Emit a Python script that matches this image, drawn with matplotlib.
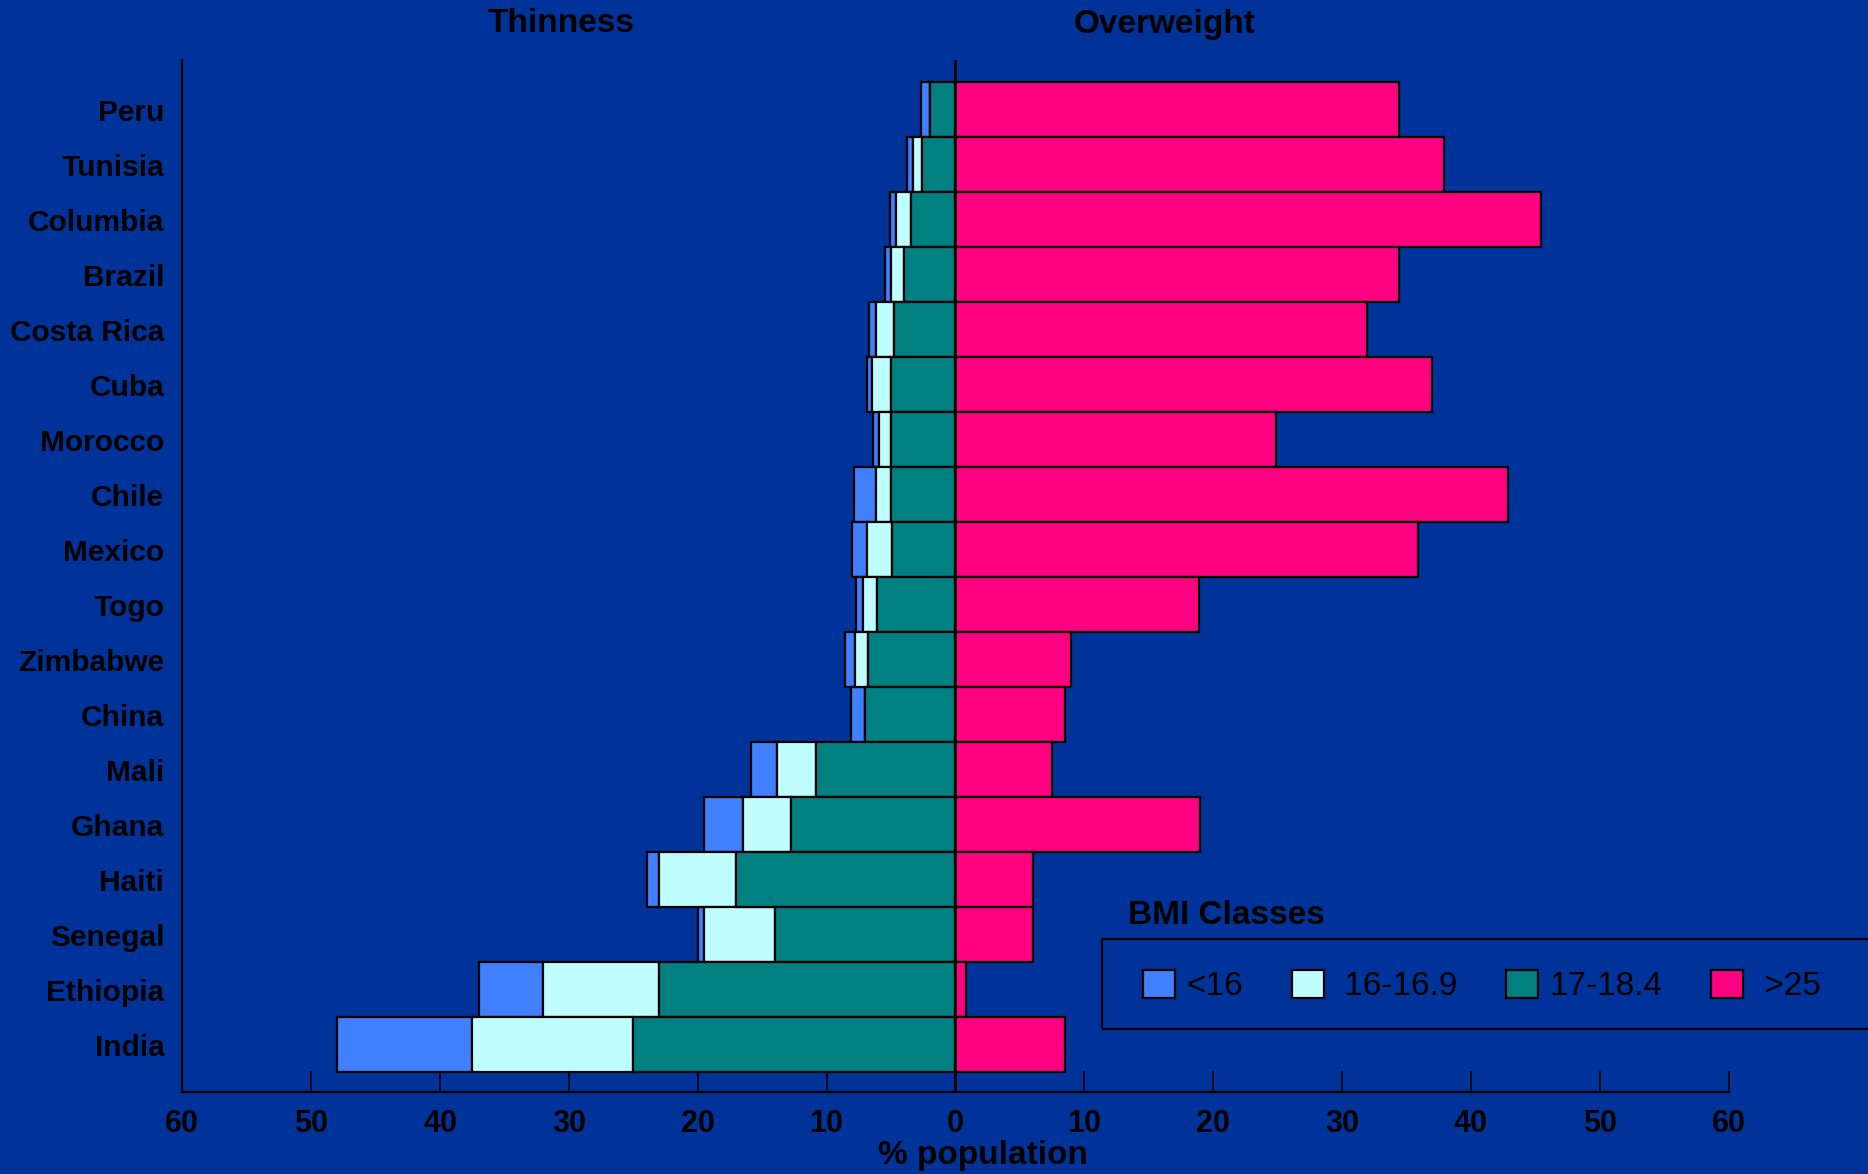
import matplotlib
matplotlib.use('Agg')
import matplotlib.pyplot as plt
from matplotlib.patches import Rectangle
import numpy as np

plt.rcParams['font.family'] = ['Liberation Sans', 'DejaVu Sans']

# Data (% of population)
countries = ['Peru', 'Tunisia', 'Columbia', 'Brazil', 'Costa Rica', 'Cuba',
             'Morocco', 'Chile', 'Mexico', 'Togo', 'Zimbabwe', 'China',
             'Mali', 'Ghana', 'Haiti', 'Senegal', 'Ethiopia', 'India']
bmi_17_18 = [2.0, 2.6, 3.45, 4.0, 4.8, 5.0, 5.0, 5.0, 4.9, 6.1, 6.8, 7.0,
             10.8, 12.8, 17.0, 14.0, 23.0, 25.0]
bmi_16_17 = [0.0, 0.7, 1.2, 1.0, 1.35, 1.45, 0.95, 1.2, 2.0, 1.1, 1.0, 0.0,
             3.05, 3.7, 6.0, 5.5, 9.0, 12.5]
bmi_lt16 = [0.7, 0.5, 0.45, 0.45, 0.55, 0.45, 0.45, 1.7, 1.1, 0.5, 0.8, 1.1,
            2.0, 3.0, 0.95, 0.5, 5.0, 10.5]
bmi_gt25 = [34.4, 37.9, 45.4, 34.4, 31.9, 37.0, 24.9, 42.9, 35.9, 18.9, 9.0,
            8.5, 7.5, 19.0, 6.0, 6.0, 0.85, 8.5]
class_labels = ['<16', ' 16-16.9', '17-18.4', ' >25']
xtick_vals = [-60, -50, -40, -30, -20, -10, 0, 10, 20, 30, 40, 50, 60]
xtick_labels = ['60', '50', '40', '30', '20', '10', '0', '10', '20', '30', '40', '50', '60']

# Colours
bg = '#003399'
c_lt16 = '#4080FF'
c_16 = '#C0FFFF'
c_17 = '#008080'
c_25 = '#FF0080'

fig = plt.figure(figsize=(18.68, 11.74), dpi=100, facecolor=bg)
ax = fig.add_axes([0.0976, 0.0695, 0.8278, 0.8797])
ax.set_facecolor(bg)

y = np.arange(len(countries))[::-1]
teal = np.array(bmi_17_18)
cyan = np.array(bmi_16_17)
blue = np.array(bmi_lt16)
pink = np.array(bmi_gt25)

kw = dict(height=1.0, edgecolor='black', linewidth=1.6)
b1 = ax.barh(y, -blue, left=-(teal + cyan), color=c_lt16, **kw)
b2 = ax.barh(y, -cyan, left=-teal, color=c_16, **kw)
b3 = ax.barh(y, -teal, color=c_17, **kw)
b4 = ax.barh(y, pink, color=c_25, **kw)

ax.axvline(0, color='black', linewidth=2)

ax.set_xlim(-60, 60)
ax.set_ylim(-0.87, len(countries) - 1 + 0.91)
ax.set_yticks(y)
ax.set_yticklabels(countries, fontsize=21.5, fontweight='bold')
ax.tick_params(axis='y', length=0, pad=13)
ax.set_xticks(xtick_vals)
ax.set_xticklabels(xtick_labels, fontsize=22, fontweight='bold')
ax.tick_params(axis='x', direction='in', length=15, width=1.2, pad=12, colors='black')

for s in ['top', 'right']:
    ax.spines[s].set_visible(False)
for s in ['left', 'bottom']:
    ax.spines[s].set_linewidth(1.6)
    ax.spines[s].set_color('black')

ax.set_xlabel('% population', fontsize=24, fontweight='bold')
ax.xaxis.set_label_coords(0.518, -0.046)

fig.text(561 / 1868, 1 - 24 / 1174, 'Thinness', fontsize=24, fontweight='bold',
         ha='center', va='center')
fig.text(1165 / 1868, 1 - 24 / 1174, 'Overweight', fontsize=24, fontweight='bold',
         ha='center', va='center')

# Legend
frame = Rectangle((1102 / 1868, 1 - 1029 / 1174), 0.5, 90 / 1174,
                  transform=fig.transFigure, facecolor='none',
                  edgecolor='black', linewidth=1.6)
fig.patches.append(frame)
fig.text(1128 / 1868, 1 - 915 / 1174, 'BMI Classes', fontsize=24,
         fontweight='bold', ha='left', va='center')
leg = fig.legend([b1, b2, b3, b4], class_labels, loc='center left',
                 bbox_to_anchor=(1143 / 1868, 1 - 986 / 1174), ncol=4,
                 frameon=False, fontsize=24, handlelength=0.96,
                 handleheight=0.93, handletextpad=0.35, columnspacing=1.45,
                 borderpad=0, borderaxespad=0)

fig.savefig('out.png', dpi=100, facecolor=bg)
